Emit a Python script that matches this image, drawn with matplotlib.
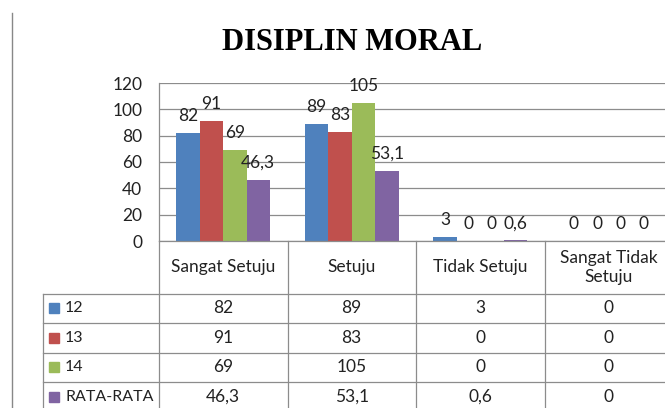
import matplotlib
matplotlib.use("agg")
import matplotlib.pyplot as plt
import numpy as np

plt.rcParams["font.family"] = ["Lato", "DejaVu Sans"]

# data
categories = ["Sangat Setuju", "Setuju", "Tidak Setuju", "Sangat Tidak\nSetuju"]
series_names = ["12", "13", "14", "RATA-RATA"]
values_12 = [82, 89, 3, 0]
values_13 = [91, 83, 0, 0]
values_14 = [69, 105, 0, 0]
values_avg = [46.3, 53.1, 0.6, 0]
yticks = [0, 20, 40, 60, 80, 100, 120]

series = [values_12, values_13, values_14, values_avg]
colors = ["#4F81BD", "#C0504D", "#9BBB59", "#8064A2"]
grid_col = "#8c8c8c"
txt_col = "#222222"
fs = 12.5


def fmt(v):
    # excel with indonesian locale uses comma decimals
    return "{:g}".format(v).replace(".", ",")


W, H = 665, 408
fig = plt.figure(figsize=(W / 100, H / 100), dpi=100)

# plot area (pixel layout measured on the reference)
left, right, top, bottom = 159, 673, 83, 241
ax = fig.add_axes([left / W, (H - bottom) / H, (right - left) / W, (bottom - top) / H])

x = np.arange(len(categories))
bw = 0.182
for i, (vals, col) in enumerate(zip(series, colors)):
    xs = x + (i - 1.5) * bw
    ax.bar(xs, vals, width=bw, color=col, linewidth=0, zorder=3)
    for xi, v in zip(xs, vals):
        ax.annotate(fmt(v), (xi, v), xytext=(0, 6.5), textcoords="offset points",
                    ha="center", va="bottom", fontsize=fs, color=txt_col,
                    zorder=4)

ax.set_xlim(-0.5, len(categories) - 0.5)
ax.set_ylim(0, 120)
ax.set_yticks(yticks)
ax.tick_params(axis="y", length=0, pad=12, labelsize=fs, labelcolor=txt_col)
ax.set_xticks([])
ax.grid(axis="y", color=grid_col, linewidth=0.9, zorder=0)
for s in ["top", "right", "bottom"]:
    ax.spines[s].set_visible(False)
ax.spines["left"].set_color(grid_col)
ax.spines["left"].set_linewidth(0.9)
ax.set_axisbelow(True)

# data table below the plot, sharing the category positions
row_h = 29.5
head_h = 52.5 / row_h
n_rows = len(series_names)
tbl_bottom = bottom + (head_h + n_rows) * row_h
tax = fig.add_axes([left / W, (H - tbl_bottom) / H, (right - left) / W,
                    (tbl_bottom - bottom) / H])
tax.set_xlim(ax.get_xlim())
tax.set_ylim(head_h + n_rows, 0)
tax.axis("off")

col_px = 128.5
lab_left = -0.5 - (left - 43) / col_px
lk = dict(color=grid_col, linewidth=0.9, clip_on=False)

# horizontal lines
tax.plot([-0.5, 3.5], [0, 0], **lk)
for r in range(n_rows):
    tax.plot([lab_left, 3.5], [head_h + r, head_h + r], **lk)
# vertical lines
for c in range(len(categories) + 1):
    tax.plot([c - 0.5, c - 0.5], [0, head_h + n_rows], **lk)
tax.plot([lab_left, lab_left], [head_h, head_h + n_rows], **lk)

for c, name in enumerate(categories):
    tax.text(c, head_h / 2, name, ha="center", va="center", fontsize=fs,
             color=txt_col, linespacing=1.25)

mark_x = -0.5 - (left - 54) / col_px
text_x = -0.5 - (left - 65) / col_px
for r, (name, vals, col) in enumerate(zip(series_names, series, colors)):
    yc = head_h + r + 0.5
    tax.plot(mark_x, yc, marker="s", markersize=7.5, color=col, clip_on=False)
    tax.text(text_x, yc, name, ha="left", va="center", fontsize=11.5,
             color=txt_col)
    for c, v in enumerate(vals):
        tax.text(c, yc, fmt(v), ha="center", va="center", fontsize=fs,
                 color=txt_col)

# title
fig.text(352 / W, 1 - 42 / H, "DISIPLIN MORAL", ha="center", va="center",
         fontsize=22, fontweight="bold", family="Liberation Serif")

# chart area border on the left
fig.add_artist(plt.Line2D([12 / W, 12 / W], [0, 1 - 13 / H], color="#888888",
                          linewidth=1.0))

fig.savefig("out.png", dpi=100)
